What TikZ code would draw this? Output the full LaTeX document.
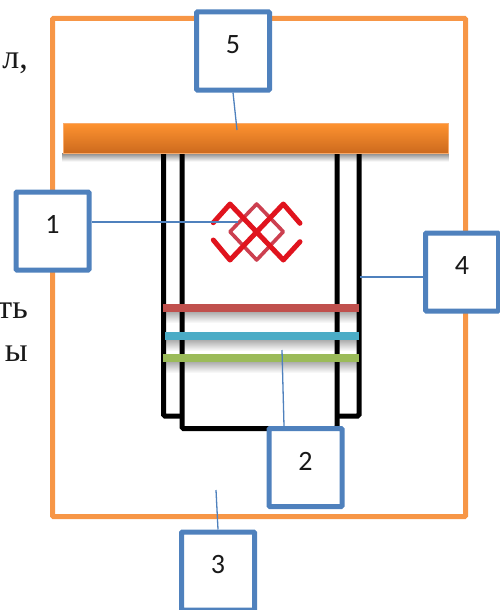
\documentclass[tikz,border=0pt]{standalone}
\usepackage{fontspec}
\setmainfont{Carlito}
\newfontfamily\sidefont{Liberation Serif}
\usetikzlibrary{arrows,positioning,calc,fadings}
\definecolor{frameor}{HTML}{F79646}
\definecolor{bartop}{HTML}{FF9330}
\definecolor{barbot}{HTML}{CC6A1E}
\definecolor{boxblue}{HTML}{4F81BD}
\definecolor{stripred}{HTML}{C0504D}
\definecolor{stripblue}{HTML}{4BACC6}
\definecolor{stripgreen}{HTML}{9BBB59}
\definecolor{ornred}{HTML}{E0141E}
\definecolor{ornpale}{HTML}{CC4050}
\begin{document}
\begin{tikzpicture}
[x=1pt,y=-1pt,
numbox/.style = 
{draw=boxblue, line width=5pt, fill=white, rounded corners=1pt, minimum width=73pt, minimum height=78pt, text depth=13pt, font=\fontsize{28}{30}\selectfont, text=black!90},
tube/.style = {draw=black, line width=5pt, rounded corners=1.5pt},
strip/.style = {minimum width=196pt, minimum height=8pt, inner sep=0pt, outer sep=0pt},
under/.style = {minimum width=196pt, minimum height=12pt, inner sep=0pt, outer sep=0pt, fill=black, opacity=0.35, path fading=south},
lead/.style = {draw=boxblue, line width=1.3pt},
orn/.style = {draw=ornred, line width=5pt, line join=round, line cap=round},
side/.style = {font=\fontsize{34}{36}\selectfont\sidefont, anchor=base east, inner sep=0pt, text=black!90}]
\useasboundingbox (0,0) rectangle (499,610);

\draw[draw=frameor, line width=5pt, rounded corners=1pt] (52.5,18.5) rectangle (465.5,516.5);

\node[side] (t1) at (28,68) {л,};
\node[side] (t2) at (28,318) {ть};
\node[side] (t3) at (28,361) {ы};

% tubes
\draw[tube] (163.5,150) -- (163.5,416) -- (182,416);
\draw[tube] (359,150) -- (359,416) -- (337,416);
\draw[tube] (182,150) -- (182,428.5) -- (337,428.5) -- (337,150);

% strips with their shadows
\node[under] (s1) at (261,317) {};
\node[under] (s2) at (262,345) {};
\node[under] (s3) at (261,367) {};
\node[strip, fill=stripred] (red) at (261,307.5) {};
\node[strip, fill=stripblue, minimum width=194pt] (blue) at (262,335.5) {};
\node[strip, fill=stripgreen] (green) at (261,357.5) {};

% top bar
\node[minimum width=387pt, minimum height=9pt, inner sep=0pt, fill=black, opacity=0.5, path fading=south] (barsh) at (256,157) {};
\node[minimum width=385pt, minimum height=30pt, inner sep=0pt, draw=frameor!80, line width=0.8pt, top color=bartop, bottom color=barbot] (bar) at (255.5,138) {};

% ornament
\draw[orn, draw=ornpale, line width=3.6pt] (230,231.7) -- (256.7,204) -- (283.3,231.7) -- (256.7,260) -- cycle;
\draw[orn] (213.3,222.7) -- (230,204) -- (283.3,260) -- (300,241.7);
\draw[orn] (213.3,240) -- (230,260) -- (283.3,204) -- (300,223.3);

\node[numbox] (n1) at (52.5,231) {1};
\node[numbox] (n2) at (305.5,467.5) {2};
\node[numbox] (n3) at (218,571) {3};
\node[numbox] (n4) at (462,272) {4};
\node[numbox] (n5) at (233,51) {5};

\coordinate (c1) at (238,222);
\coordinate (c2) at (282,350);
\coordinate (c3) at (216,490);
\coordinate (c4) at (360,277);
\coordinate (c5) at (237,130);
\coordinate (a2) at ($(n2.north)+(-21.5,0)$);

\path[lead]
(n1.east|-c1)edge(c1)
(a2)edge(c2)
(n3.north)edge(c3)
(n4.west|-c4)edge(c4)
(n5.south)edge(c5);

\end{tikzpicture}
\end{document}
